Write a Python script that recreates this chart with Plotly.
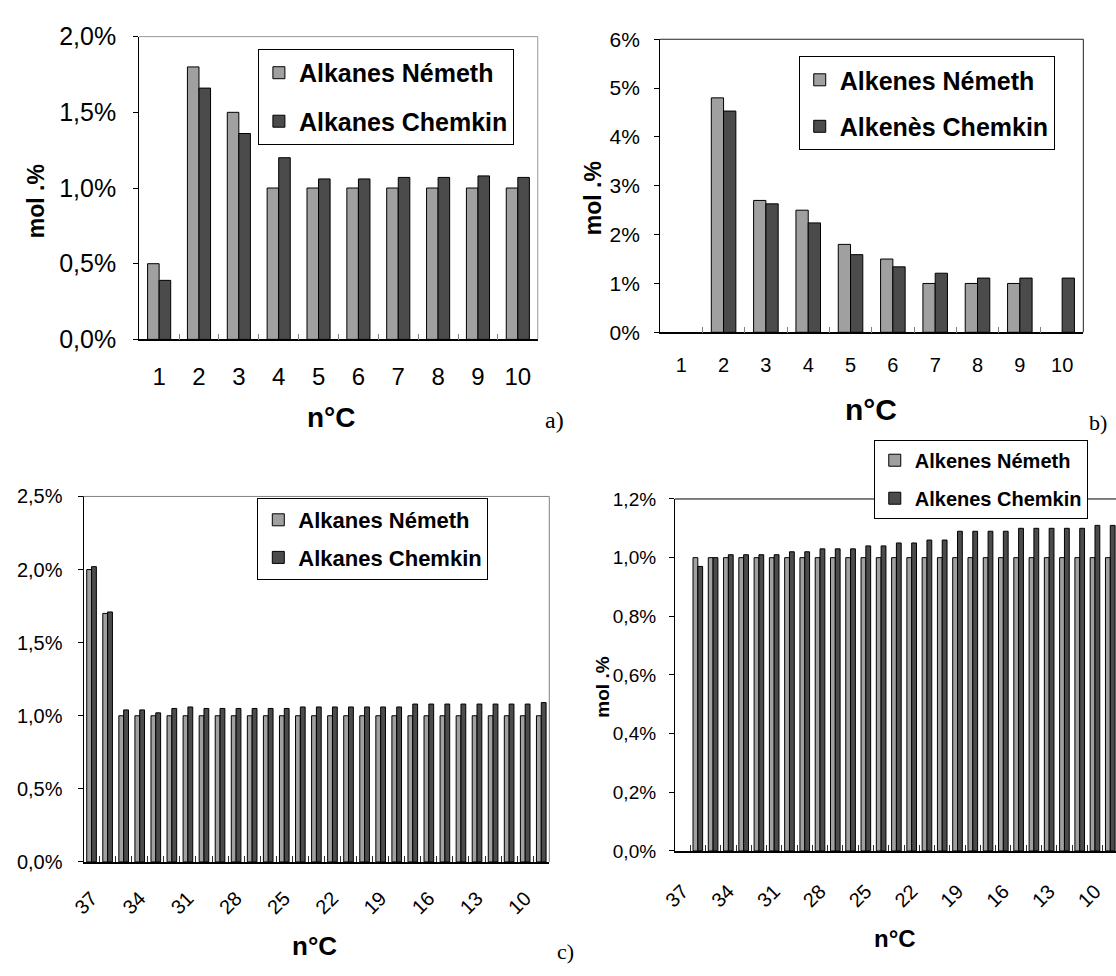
import plotly.graph_objects as go

# ---------------- data ----------------
carbons_ab = ["1", "2", "3", "4", "5", "6", "7", "8", "9", "10"]

alkanes_nemeth_a = [0.50, 1.80, 1.50, 1.00, 1.00, 1.00, 1.00, 1.00, 1.00, 1.00]
alkanes_chemkin_a = [0.39, 1.66, 1.36, 1.20, 1.06, 1.06, 1.07, 1.07, 1.08, 1.07]

alkenes_nemeth_b = [None, 4.80, 2.70, 2.50, 1.80, 1.50, 1.00, 1.00, 1.00, None]
alkenes_chemkin_b = [None, 4.53, 2.63, 2.24, 1.59, 1.34, 1.21, 1.11, 1.11, 1.11]

carbons_cd = ["37", "36", "35", "34", "33", "32", "31", "30", "29", "28",
              "27", "26", "25", "24", "23", "22", "21", "20", "19", "18",
              "17", "16", "15", "14", "13", "12", "11", "10", "9"]
tick_labels_cd = ["37", "34", "31", "28", "25", "22", "19", "16", "13", "10"]

alkanes_nemeth_c = [2.00, 1.70, 1.00, 1.00, 1.00, 1.00, 1.00, 1.00, 1.00, 1.00,
                    1.00, 1.00, 1.00, 1.00, 1.00, 1.00, 1.00, 1.00, 1.00, 1.00,
                    1.00, 1.00, 1.00, 1.00, 1.00, 1.00, 1.00, 1.00, 1.00]
alkanes_chemkin_c = [2.02, 1.71, 1.04, 1.04, 1.02, 1.05, 1.06, 1.05, 1.05, 1.05,
                     1.05, 1.05, 1.05, 1.06, 1.06, 1.06, 1.06, 1.06, 1.06, 1.06,
                     1.08, 1.08, 1.08, 1.08, 1.08, 1.08, 1.08, 1.08, 1.09]

alkenes_nemeth_d = [None, 1.00, 1.00, 1.00, 1.00, 1.00, 1.00, 1.00, 1.00, 1.00,
                    1.00, 1.00, 1.00, 1.00, 1.00, 1.00, 1.00, 1.00, 1.00, 1.00,
                    1.00, 1.00, 1.00, 1.00, 1.00, 1.00, 1.00, 1.00, 1.00]
alkenes_chemkin_d = [None, 0.97, 1.00, 1.01, 1.01, 1.01, 1.01, 1.02, 1.02, 1.03,
                     1.03, 1.03, 1.04, 1.04, 1.05, 1.05, 1.06, 1.06, 1.09, 1.09,
                     1.09, 1.09, 1.10, 1.10, 1.10, 1.10, 1.10, 1.11, 1.11]

# ---------------- style ----------------
W, H = 1116, 976
FONT = "Arial, 'Liberation Sans', sans-serif"
SERIF = "'Times New Roman', 'Liberation Serif', serif"
LIGHT = "#a0a0a0"
DARK = "#4b4b4b"


def px(x):
    return x / W


def py(y):
    return 1 - y / H


fig = go.Figure()


def add_pair(cats, y1, y2, n1, n2, xa, ya, leg, w):
    fig.add_trace(go.Bar(
        x=cats, y=y1, name=n1, xaxis=xa, yaxis=ya, legend=leg,
        legendgroup=leg + "a", width=w, offset=-w,
        marker=dict(color=LIGHT, line=dict(color="black", width=1))))
    fig.add_trace(go.Bar(
        x=cats, y=y2, name=n2, xaxis=xa, yaxis=ya, legend=leg,
        legendgroup=leg + "b", width=w, offset=0,
        marker=dict(color=DARK, line=dict(color="black", width=1))))


add_pair(carbons_ab, alkanes_nemeth_a, alkanes_chemkin_a,
         "Alkanes Németh", "Alkanes Chemkin", "x", "y", "legend", 0.29)
add_pair(carbons_ab, alkenes_nemeth_b, alkenes_chemkin_b,
         "Alkenes Németh", "Alkenès Chemkin", "x2", "y2", "legend2", 0.29)
add_pair(carbons_cd, alkanes_nemeth_c, alkanes_chemkin_c,
         "Alkanes Németh", "Alkanes Chemkin", "x3", "y3", "legend3", 0.30)
add_pair(carbons_cd, alkenes_nemeth_d, alkenes_chemkin_d,
         "Alkenes Németh", "Alkenes Chemkin", "x4", "y4", "legend4", 0.315)


def xaxis_cfg(dom, anchor, cats, size, standoff, tickcolor, rng,
              ticktext=None, angle=0):
    cfg = dict(domain=dom, anchor=anchor, type="category",
               categoryorder="array", categoryarray=cats, range=rng,
               showline=True, linecolor="black", linewidth=1.5,
               ticks="inside", tickson="boundaries", ticklen=6,
               tickcolor=tickcolor, tickwidth=1,
               tickfont=dict(size=size, family=FONT, color="black"),
               ticklabelstandoff=standoff, showgrid=False, zeroline=False,
               tickangle=angle)
    if ticktext is not None:
        cfg.update(tickmode="array", tickvals=cats, ticktext=ticktext)
    return cfg


def yaxis_cfg(dom, anchor, rng, dtick, fmt, size, standoff):
    return dict(domain=dom, anchor=anchor, range=rng, dtick=dtick,
                tick0=0, tickformat=fmt, ticksuffix="%",
                showline=True, linecolor="black", linewidth=1,
                ticks="outside", ticklen=5, tickcolor="black",
                tickfont=dict(size=size, family=FONT, color="black"),
                ticklabelstandoff=standoff, showgrid=False, zeroline=False)


cd_text = [c if c in tick_labels_cd else "" for c in carbons_cd]

fig.update_layout(
    xaxis=xaxis_cfg([px(126.8), px(530.4)], "y", carbons_ab, 24, 15,
                    "#808080", [-0.5, 9.5]),
    yaxis=yaxis_cfg([py(335), py(23.3)], "x", [0, 2.0], 0.5, ".1f", 25, 12),
    xaxis2=xaxis_cfg([px(654.3), px(1082.9)], "y2", carbons_ab, 20, 14,
                     "#808080", [-0.5, 9.5]),
    yaxis2=yaxis_cfg([py(327.7), py(26)], "x2", [0, 6], 1, ".0f", 21, 10),
    xaxis3=xaxis_cfg([px(70.4), px(542.1)], "y3", carbons_cd, 20, 15,
                     "#303030", [-0.5, 28.5], cd_text, -45),
    yaxis3=yaxis_cfg([py(873), py(496.7)], "x3", [0, 2.5], 0.5, ".1f", 20, 11),
    xaxis4=xaxis_cfg([px(669.3), 1.0], "y4", carbons_cd, 20, 19,
                     "#303030", [-0.5, 28.375], cd_text, -45),
    yaxis4=yaxis_cfg([py(861.7), py(499.3)], "x4", [0, 1.2], 0.2, ".1f", 19, 9),
)


def legend_cfg(x, y, size, gap):
    return dict(x=px(x), y=py(y), xanchor="left", yanchor="top",
                bgcolor="white", bordercolor="black", borderwidth=1,
                font=dict(family=FONT, size=size, color="black",
                          weight="bold"),
                tracegroupgap=gap, orientation="v")


fig.update_layout(
    width=W, height=H, margin=dict(l=0, r=0, t=0, b=0),
    paper_bgcolor="white", plot_bgcolor="white",
    separators=", ", barmode="group", showlegend=True,
    font=dict(family=FONT, color="black"),
    legend=legend_cfg(247, 36, 25, 13),
    legend2=legend_cfg(794.7, 43.3, 25, 11),
    legend3=legend_cfg(246.4, 498.3, 22, 6),
    legend4=legend_cfg(870.7, 438.3, 20, 9),
)

# frame lines (top / right of plot areas)
frames = [
    ("x", "y", "#999999", True),
    ("x2", "y2", "#222222", True),
    ("x3", "y3", "#808080", True),
    ("x4", "y4", "#000000", False),
]
for xa, ya, col, right in frames:
    fig.add_shape(type="line", xref=xa + " domain", yref=ya + " domain",
                  x0=0, x1=1, y0=1, y1=1, line=dict(color=col, width=1))
    if right:
        fig.add_shape(type="line", xref=xa + " domain", yref=ya + " domain",
                      x0=1, x1=1, y0=0, y1=1, line=dict(color=col, width=1))


def ann(text, x, y, size, angle=0, family=FONT):
    fig.add_annotation(text=text, x=px(x), y=py(y), xref="paper",
                       yref="paper", showarrow=False, textangle=angle,
                       xanchor="center", yanchor="middle",
                       font=dict(family=family, size=size, color="black"))


ann("<b>mol .%</b>", 23, 193, 23, -90)
ann("<b>mol .%</b>", 586, 190, 23, -90)
ann("<b>mol .%</b>", 596, 693, 19, -90)
ann("<b>n°C</b>", 322, 415, 28)
ann("<b>n°C</b>", 868, 407, 30)
ann("<b>n°C</b>", 304, 960, 26)
ann("<b>n°C</b>", 892, 952, 24)
ann("a)", 547, 418, 24, family=SERIF)
ann("b)", 1098, 421, 22, family=SERIF)
ann("c)", 558, 965, 22, family=SERIF)

fig.write_html(
    "out.html",
    config={"displayModeBar": False},
    post_script="document.body.style.margin='0px';"
                "document.body.style.overflow='hidden';",
)
